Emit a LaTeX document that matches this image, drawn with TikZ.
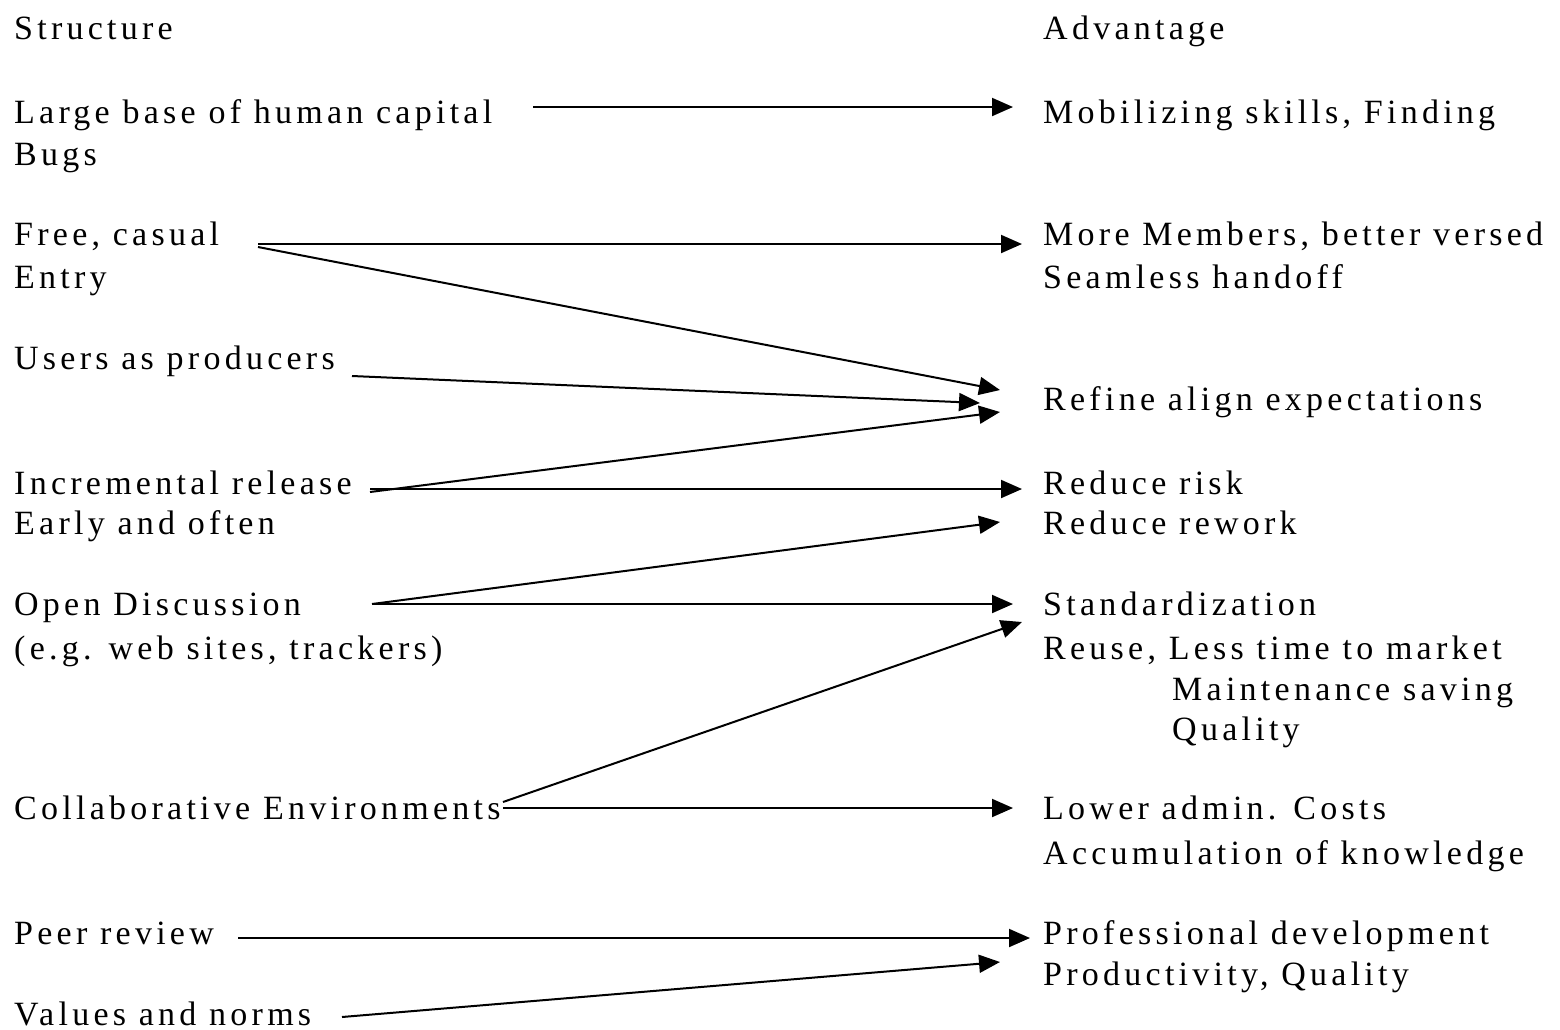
\documentclass[tikz,border=0pt]{standalone}
\usepackage{fontspec}
\setmainfont{Liberation Serif}[LetterSpace=12.5]
\usetikzlibrary{arrows.meta}
\begin{document}
\begin{tikzpicture}[x=1pt,y=-1pt,
  txt/.style={anchor=base west, inner sep=0pt, font=\fontsize{34}{42}\selectfont},
  arr/.style={line width=2pt, -{Triangle[length=21pt,width=18pt]}}]
\useasboundingbox (0,0) rectangle (1560,1029);
% left column
\node[txt] (sh)  at (14,39)   {Structure};
\node[txt] (l1a) at (14,123)  {Large base of human capital};
\node[txt] (l1b) at (14,165)  {Bugs};
\node[txt] (l2a) at (14,245)  {Free, casual};
\node[txt] (l2b) at (14,288)  {Entry};
\node[txt] (l3)  at (14,369)  {Users as producers};
\node[txt] (l4a) at (14,494)  {Incremental release};
\node[txt] (l4b) at (14,534)  {Early and often};
\node[txt] (l5a) at (14,615)  {Open Discussion};
\node[txt] (l5b) at (14,659)  {(e.g. web sites, trackers)};
\node[txt] (l6)  at (14,819)  {Collaborative Environments};
\node[txt] (l7)  at (14,944)  {Peer review};
\node[txt] (l8)  at (14,1025) {Values and norms};
% right column
\node[txt] (ah)  at (1043,39)  {Advantage};
\node[txt] (r1)  at (1043,123) {Mobilizing skills, Finding};
\node[txt] (r2a) at (1043,245) {More Members, better versed};
\node[txt] (r2b) at (1043,288) {Seamless handoff};
\node[txt] (r3)  at (1043,410) {Refine align expectations};
\node[txt] (r4a) at (1043,494) {Reduce risk};
\node[txt] (r4b) at (1043,534) {Reduce rework};
\node[txt] (r5a) at (1043,615) {Standardization};
\node[txt] (r5b) at (1043,659) {Reuse, Less time to market};
\node[txt] (r5c) at (1172,700) {Maintenance saving};
\node[txt] (r5d) at (1172,740) {Quality};
\node[txt] (r6a) at (1043,819) {Lower admin. Costs};
\node[txt] (r6b) at (1043,864) {Accumulation of knowledge};
\node[txt] (r7a) at (1043,944) {Professional development};
\node[txt] (r7b) at (1043,985) {Productivity, Quality};
% connector end points
\coordinate (s1)  at (533,107);  \coordinate (e1)  at (1013,107);
\coordinate (s2)  at (258,244);  \coordinate (e2)  at (1022,244);
\coordinate (s3)  at (258,247);  \coordinate (e3)  at (1000,390);
\coordinate (s4)  at (352,376);  \coordinate (e4)  at (980,403);
\coordinate (s5)  at (370,492);  \coordinate (e5)  at (1000,412);
\coordinate (s6)  at (370,489);  \coordinate (e6)  at (1022,489);
\coordinate (s7)  at (372,604);  \coordinate (e7)  at (1000,522);
\coordinate (s8)  at (372,604);  \coordinate (e8)  at (1013,604);
\coordinate (s9)  at (503,802);  \coordinate (e9)  at (1022,622);
\coordinate (s10) at (503,808);  \coordinate (e10) at (1013,808);
\coordinate (s11) at (238,938);  \coordinate (e11) at (1030,938);
\coordinate (s12) at (342,1017); \coordinate (e12) at (1000,962);
\foreach \i in {1,...,12} \draw[arr] (s\i) -- (e\i);
\end{tikzpicture}
\end{document}
